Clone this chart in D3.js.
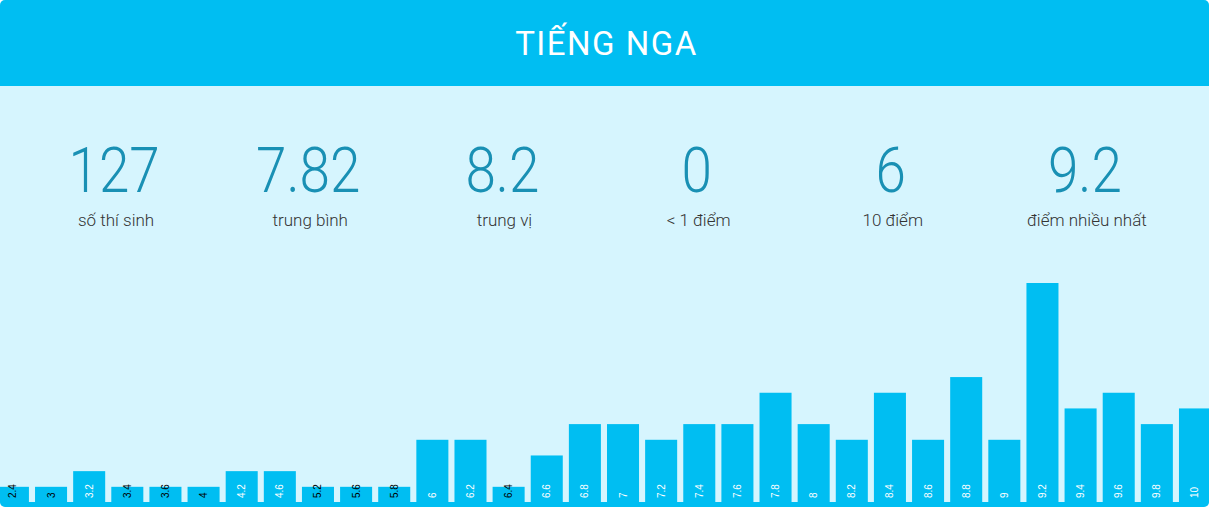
<!DOCTYPE html>
<html>
<head>
<meta charset="utf-8">
<script src="https://cdn.jsdelivr.net/npm/d3@7"></script>
<style>
  html, body { margin: 0; padding: 0; background: #ffffff; overflow: hidden; }
  svg { display: block; }
</style>
</head>
<body>
<svg id="chart" width="1209" height="507"></svg>
<script>
// ---- data ----
const title = "TIẾNG NGA";
const statValues = ["127", "7.82", "8.2", "0", "6", "9.2"];
const statLabels = ["số thí sinh", "trung bình", "trung vị", "< 1 điểm", "10 điểm", "điểm nhiều nhất"];
const scores = ["2.4","3","3.2","3.4","3.6","4","4.2","4.6","5.2","5.6","5.8","6","6.2","6.4","6.6","6.8","7","7.2","7.4","7.6","7.8","8","8.2","8.4","8.6","8.8","9","9.2","9.4","9.6","9.8","10"];
const counts = [1,1,2,1,1,1,2,2,1,1,1,4,4,1,3,5,5,4,5,5,7,5,4,7,4,8,4,14,6,7,5,6];

// ---- layout ----
const W = 1209, H = 507;
const blue = "#00bef2", light = "#d6f5fe";
const svg = d3.select("#chart");

const defs = svg.append("defs");
defs.append("clipPath").attr("id", "card")
  .append("rect").attr("x", 0).attr("y", 0).attr("width", W).attr("height", H).attr("rx", 5).attr("ry", 5);

const g = svg.append("g").attr("clip-path", "url(#card)");
g.append("rect").attr("width", W).attr("height", H).attr("fill", light);
g.append("rect").attr("width", W).attr("height", 86).attr("fill", blue);
g.append("rect").attr("y", 502).attr("width", W).attr("height", 5).attr("fill", blue);

g.append("text")
  .attr("x", W / 2 + 2).attr("y", 55)
  .attr("text-anchor", "middle")
  .attr("fill", "#ffffff")
  .style("font-family", "Roboto, 'Open Sans', sans-serif")
  .style("font-size", "33px")
  .style("letter-spacing", "1.5px")
  .text(title);

// stats
const sx = d3.scaleBand().domain(d3.range(statValues.length)).range([17, 1182]);
const stat = g.selectAll("g.stat").data(statValues).join("g")
  .attr("class", "stat")
  .attr("transform", (d, i) => `translate(${sx(i) + sx.bandwidth() / 2},0)`);
stat.append("text")
  .attr("transform", "translate(0,192) scale(0.87,1)")
  .attr("text-anchor", "middle")
  .attr("fill", "#1990b4")
  .style("font-family", "Roboto, 'Open Sans', sans-serif")
  .style("font-weight", 300)
  .style("font-size", "63px")
  .text(d => d);
stat.append("text")
  .data(statLabels)
  .attr("transform", "translate(2,226)")
  .attr("text-anchor", "middle")
  .attr("fill", "#333333")
  .style("font-family", "Roboto, 'Open Sans', sans-serif")
  .style("font-weight", 300)
  .style("font-size", "17px")
  .text(d => d);

// bars
const x = d3.scaleBand().domain(scores).range([-3.1, 1211]).paddingInner(0.16).paddingOuter(0);
const y = d3.scaleLinear().domain([0, d3.max(counts)]).range([502.5, 283]);
const data = scores.map((s, i) => ({ s, c: counts[i] }));

g.selectAll("rect.bar").data(data).join("rect")
  .attr("class", "bar")
  .attr("x", d => x(d.s))
  .attr("width", x.bandwidth())
  .attr("y", d => y(d.c))
  .attr("height", d => y(0) - y(d.c))
  .attr("fill", blue);

g.selectAll("text.lbl").data(data).join("text")
  .attr("class", "lbl")
  .attr("transform", d => `translate(${x(d.s) + x.bandwidth() / 2 + 3.5},498) rotate(-90)`)
  .attr("fill", d => d.c === 1 ? "#000000" : "#ffffff")
  .style("font-family", "'Liberation Sans', Arial, sans-serif")
  .style("font-size", "10px")
  .text(d => d.s);
</script>
</body>
</html>
